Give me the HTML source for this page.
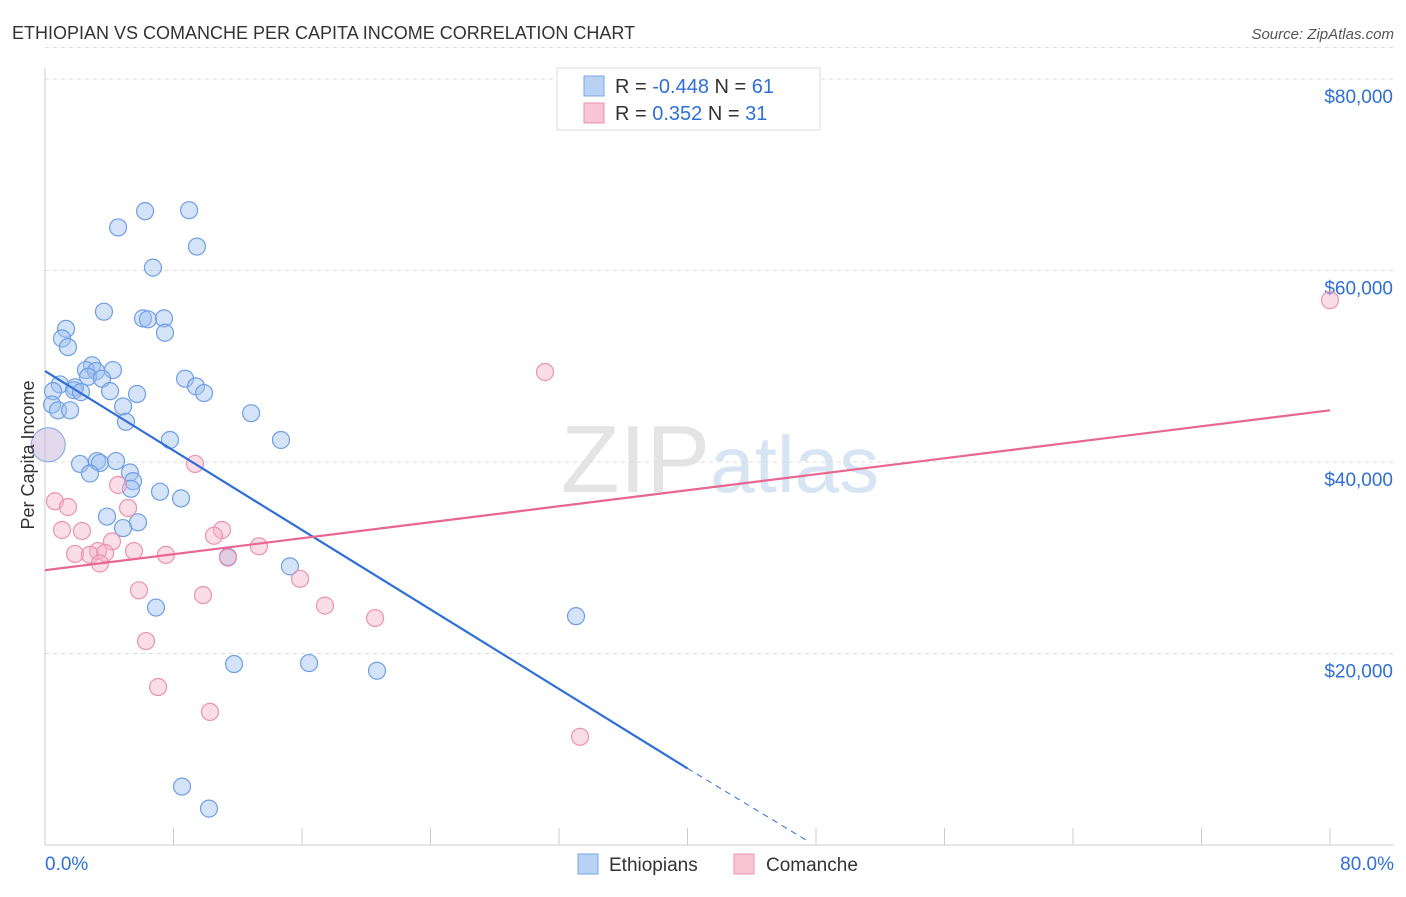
<!DOCTYPE html>
<html><head><meta charset="utf-8"><style>
body{margin:0;background:#fff;font-family:"Liberation Sans",sans-serif}
svg text{font-family:"Liberation Sans",sans-serif}
</style></head><body>
<svg id="chart" width="1406" height="892" xmlns="http://www.w3.org/2000/svg">
<text x="12" y="39" font-size="18" fill="#333">ETHIOPIAN VS COMANCHE PER CAPITA INCOME CORRELATION CHART</text>
<text x="1394" y="39" font-size="15" fill="#555" text-anchor="end" font-style="italic">Source: ZipAtlas.com</text>
<text x="720" y="492" font-size="96" fill="#e4e4e4" text-anchor="middle" font-family="Liberation Serif">ZIP<tspan fill="#d7e4f4" font-family="Liberation Sans" font-size="80">atlas</tspan></text>
<g id="grid"></g><g id="axes"></g><g id="pts"></g><g id="lines"></g>
<text transform="translate(34,455) rotate(-90)" font-size="18" fill="#333" text-anchor="middle">Per Capita Income</text>
<g>
<rect x="557" y="68" width="263" height="62" fill="#fff" stroke="#ddd"/>
<rect x="584" y="76" width="20" height="20" fill="#b9d2f3" stroke="#7aa6e6"/>
<rect x="584" y="103" width="20" height="20" fill="#f8c5d5" stroke="#ec92b0"/>
<text x="615" y="93" font-size="20" fill="#333">R = <tspan fill="#2f6fd6">-0.448</tspan>   N = <tspan fill="#2f6fd6">61</tspan></text>
<text x="615" y="120" font-size="20" fill="#333">R =  <tspan fill="#2f6fd6"> 0.352</tspan>   N = <tspan fill="#2f6fd6">31</tspan></text>
</g>
<g>
<rect x="578" y="854" width="20" height="20" fill="#b9d2f3" stroke="#7aa6e6"/>
<text x="609" y="871" font-size="19" fill="#333">Ethiopians</text>
<rect x="734" y="854" width="20" height="20" fill="#f8c5d5" stroke="#ec92b0"/>
<text x="766" y="871" font-size="19" fill="#333">Comanche</text>
</g>
</svg>
<script>
const blueX=[6.23,8.97,4.55,9.46,6.72,3.67,6.10,6.41,7.41,7.47,1.31,1.06,1.43,2.93,2.55,4.23,3.18,2.68,3.55,8.72,0.93,1.87,0.50,1.81,2.24,4.05,5.73,9.40,9.90,0.44,4.86,0.81,1.56,12.83,5.04,7.78,14.69,2.18,3.24,3.42,4.42,2.80,5.29,5.48,5.35,7.16,8.47,3.86,5.79,4.86,11.39,15.25,6.91,33.06,11.77,16.44,20.67,8.53,10.21];
const blueY=[66.2,66.3,64.5,62.5,60.3,55.7,55.0,54.9,55.0,53.5,53.9,52.9,52.0,50.1,49.6,49.6,49.5,48.9,48.7,48.7,48.1,47.8,47.4,47.5,47.3,47.4,47.1,47.9,47.2,46.0,45.8,45.4,45.4,45.1,44.2,42.3,42.3,39.8,40.1,39.9,40.1,38.8,38.9,38.0,37.2,36.9,36.2,34.3,33.7,33.1,30.1,29.1,24.8,23.9,18.9,19.0,18.2,6.1,3.8];
const pinkX=[80.0,31.13,9.34,0.62,1.43,4.55,5.17,1.06,2.30,11.02,10.52,4.17,13.32,1.87,3.30,5.54,7.53,2.80,3.74,3.42,11.39,15.88,5.85,9.84,17.43,20.55,6.29,7.04,10.27,33.31];
const pinkY=[56.9,49.4,39.8,35.9,35.3,37.6,35.2,32.9,32.8,32.9,32.3,31.7,31.2,30.4,30.7,30.7,30.3,30.3,30.5,29.4,30.0,27.8,26.6,26.1,25.0,23.7,21.3,16.5,13.9,11.3];
const bigX=[0.2],bigY=[41.8];
const yTicks=[20,40,60,80];
const yTickLabels=["$20,000","$40,000","$60,000","$80,000"];
const blueTrend=[[0,49.5],[40,8.0]],blueDash=[[40,8.0],[47.4,0.5]];
const pinkTrend=[[0,28.7],[80,45.4]];
const NS="http://www.w3.org/2000/svg";
const sx=v=>45+v/80*1285, sy=v=>845-v/20*191.5;
function mk(p,t,a){const e=document.createElementNS(NS,t);for(const k in a)e.setAttribute(k,a[k]);document.getElementById(p).appendChild(e);return e;}
yTicks.forEach((t,i)=>{
 const g=mk('grid','line',{x1:45,x2:1394,y1:sy(t),y2:sy(t),stroke:'#ddd','stroke-dasharray':'4,4'});
 
 
 const l=mk('axes','text',{x:1393,y:sy(t)+24,'font-size':19,fill:'#2f6fd6','text-anchor':'end'});l.textContent=yTickLabels[i];
 
 
});
mk('grid','line',{x1:45,x2:1394,y1:sy(83.3),y2:sy(83.3),stroke:'#ddd','stroke-dasharray':'4,4'});
mk('axes','line',{x1:45,x2:45,y1:68,y2:845,stroke:'#ccc'});
mk('axes','line',{x1:45,x2:1394,y1:845,y2:845,stroke:'#ccc'});
for(let i=0;i<=10;i++){const t=mk('axes','line',{x1:sx(i*8),x2:sx(i*8),y1:828,y2:845,stroke:'#ccc'});
 
 }
let a=mk('axes','text',{x:45,y:870,'font-size':19,fill:'#2f6fd6'});a.textContent='0.0%';


a=mk('axes','text',{x:1394,y:870,'font-size':19,fill:'#2f6fd6','text-anchor':'end'});a.textContent='80.0%';


blueX.forEach((x,i)=>{const c=mk('pts','circle',{cx:sx(x),cy:sy(blueY[i]),r:8.5,fill:'rgba(160,194,240,0.45)',stroke:'#6f9ee6','stroke-width':1.2});
 
 });
pinkX.forEach((x,i)=>{const c=mk('pts','circle',{cx:sx(x),cy:sy(pinkY[i]),r:8.5,fill:'rgba(245,180,202,0.45)',stroke:'#ec92b0','stroke-width':1.2});
 
 });
bigX.forEach((x,i)=>{const c=mk('pts','circle',{cx:sx(x),cy:sy(bigY[i]),r:17,fill:'rgba(200,180,220,0.5)',stroke:'#8fb0e8','stroke-width':1.2});
 
 });
function ln(p,st,extra,name){const l=mk('lines','line',Object.assign({x1:sx(p[0][0]),y1:sy(p[0][1]),x2:sx(p[1][0]),y2:sy(p[1][1]),stroke:st},extra));
 
 }
ln(blueTrend,'#2f6fd6',{'stroke-width':2.2},'ethiopian-trendline');
ln(blueDash,'#2f6fd6',{'stroke-width':1,'stroke-dasharray':'6,5'},'ethiopian-trendline-extension');
ln(pinkTrend,'#e8668f',{'stroke-width':2.2},'comanche-trendline');
</script>
</body></html>
